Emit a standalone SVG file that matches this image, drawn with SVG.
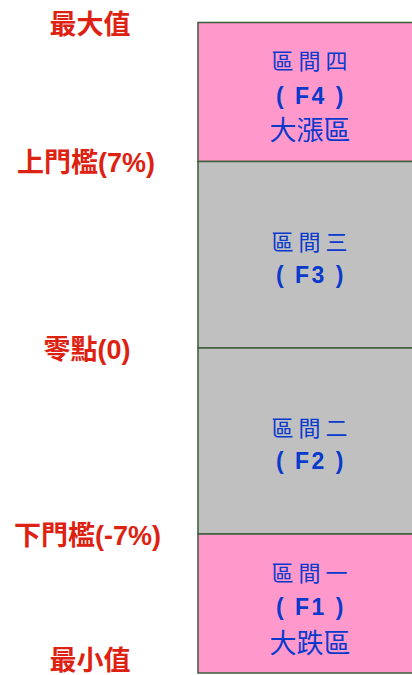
<svg xmlns="http://www.w3.org/2000/svg" width="412" height="675" viewBox="0 0 412 675">
<style>
.lbl{font-family:"Liberation Sans","Noto Sans CJK TC",sans-serif;font-size:27px;font-weight:bold;fill:#dd2211;text-anchor:middle;dominant-baseline:central}
.zone{stroke:#3b5e3b;stroke-width:1.5}
.pink{fill:#ff99cc}
.gray{fill:#c0c0c0}
.t1{font-family:"Noto Sans CJK TC",sans-serif;font-size:22px;fill:#0a3acc;text-anchor:middle;dominant-baseline:central;letter-spacing:5px}
.t2{font-family:"Liberation Sans",sans-serif;font-size:23px;font-weight:bold;fill:#0a3acc;text-anchor:middle;dominant-baseline:central;letter-spacing:2.5px}
.t3{font-family:"Noto Sans CJK TC",sans-serif;font-size:27px;fill:#0a3acc;text-anchor:middle;dominant-baseline:central}
</style>
<rect width="412" height="675" fill="#ffffff"/>
<g id="F4">
<rect class="zone pink" x="198" y="22.5" width="240" height="139"/>
<text class="t1" x="312" y="59">區間四</text>
<text class="t2" x="311" y="96">( F4 )</text>
<text class="t3" x="310" y="128.5">大漲區</text>
</g>
<g id="F3">
<rect class="zone gray" x="198" y="161.5" width="240" height="186.5"/>
<text class="t1" x="312" y="240">區間三</text>
<text class="t2" x="311" y="274.5">( F3 )</text>
</g>
<g id="F2">
<rect class="zone gray" x="198" y="348" width="240" height="186"/>
<text class="t1" x="312" y="426">區間二</text>
<text class="t2" x="311" y="460.5">( F2 )</text>
</g>
<g id="F1">
<rect class="zone pink" x="198" y="534" width="240" height="139"/>
<text class="t1" x="312" y="571">區間一</text>
<text class="t2" x="311" y="607">( F1 )</text>
<text class="t3" x="310" y="641.5">大跌區</text>
</g>
<g id="labels">
<text class="lbl" x="90" y="24.5">最大值</text>
<text class="lbl" x="86" y="163">上門檻(7%)</text>
<text class="lbl" x="87" y="350">零點(0)</text>
<text class="lbl" x="87.5" y="536">下門檻(-7%)</text>
<text class="lbl" x="90" y="661">最小值</text>
</g>
</svg>
